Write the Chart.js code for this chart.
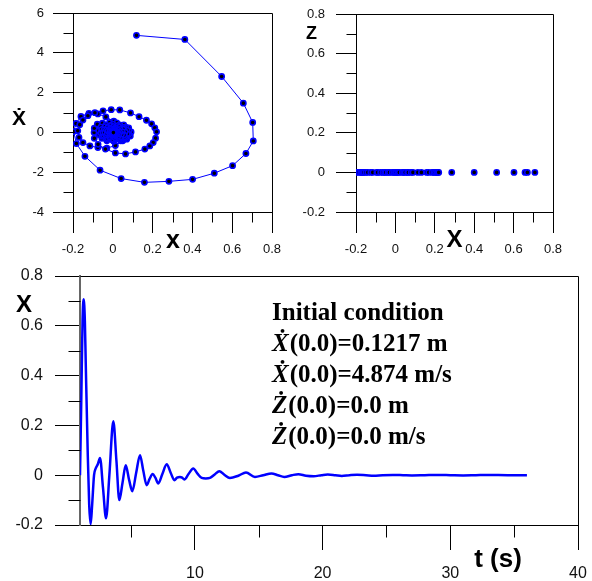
<!DOCTYPE html>
<html>
<head>
<meta charset="utf-8">
<script src="https://cdn.jsdelivr.net/npm/chart.js@4.4.1/dist/chart.umd.min.js"></script>
<style>
  body { margin: 0; background: #fff; }
  #wrap { position: relative; width: 592px; height: 581px; }
  canvas { position: absolute; }
</style>
</head>
<body>
<div id="wrap">
  <canvas id="phase" width="290" height="260" style="left:0;top:0"></canvas>
  <canvas id="xz" width="302" height="260" style="left:290px;top:0"></canvas>
  <canvas id="series" width="592" height="326" style="left:0;top:255px"></canvas>
</div>
<script>
// ---- phase plane (x, x dot) ----
const phaseX = [
  0.119, 0.362, 0.547, 0.656, 0.703, 0.706, 0.669, 0.602, 0.510, 0.401, 0.282, 0.159, 0.042, -0.064, -0.140, -0.183, -0.197,
  -0.185, -0.160, -0.120, -0.075, -0.035, 0.005, 0.040, 0.062,
  0.066, 0.050, 0.013, -0.030, -0.075, -0.115, -0.150, -0.170,
  -0.176, -0.166, -0.150, -0.125, -0.090, -0.049, -0.008, 0.035, 0.089, 0.132, 0.169, 0.195, 0.211, 0.220,
  0.215, 0.203, 0.186, 0.161, 0.114, 0.064, 0.013, -0.037, -0.074, -0.093,
  -0.094, -0.093, -0.078, -0.052, -0.016, 0.020, 0.055, 0.080, 0.092,
  0.088, 0.070, 0.040, 0.005, -0.030, -0.055, -0.068,
  -0.070, -0.060, -0.035, 0.000, 0.035, 0.065, 0.082, 0.080, 0.065, 0.035, 0.000, -0.032, -0.052, -0.060,
  -0.055, -0.038, -0.010, 0.025, 0.055, 0.072, 0.073, 0.060, 0.033, 0.002, -0.027, -0.045, -0.050,
  -0.043, -0.025, 0.003, 0.032, 0.053, 0.062, 0.056, 0.038, 0.010, -0.017, -0.035, -0.040,
  -0.032, -0.012, 0.014, 0.036, 0.048, 0.044, 0.028, 0.005, -0.016, -0.028,
  -0.024, -0.010, 0.010, 0.027, 0.035, 0.030, 0.014, -0.004, -0.016,
  -0.015, -0.004, 0.010, 0.021, 0.023, 0.014, 0.002, -0.007,
  -0.006, 0.004, 0.012, 0.014, 0.009, 0.002, -0.001, 0.004, 0.008, 0.006, 0.003
];
const phaseV = [
  4.876, 4.67, 2.81, 1.47, 0.50, -0.43, -1.06, -1.67, -2.05, -2.36, -2.46, -2.51, -2.32, -1.90, -1.20, -0.56, 0.04,
  0.45, 0.80, 0.96, 0.93, 0.78, 0.56, 0.32, 0.10,
  -0.15, -0.42, -0.66, -0.79, -0.76, -0.68, -0.51, -0.25,
  0.08, 0.39, 0.62, 0.84, 0.99, 1.08, 1.14, 1.13, 0.98, 0.79, 0.61, 0.43, 0.23, 0.03,
  -0.29, -0.51, -0.68, -0.84, -0.98, -1.08, -1.03, -0.84, -0.60, -0.30,
  0.00, 0.21, 0.41, 0.46, 0.50, 0.48, 0.38, 0.22, 0.02,
  -0.18, -0.34, -0.42, -0.45, -0.42, -0.30, -0.12,
  0.08, 0.27, 0.38, 0.42, 0.38, 0.26, 0.08, -0.10, -0.27, -0.37, -0.40, -0.34, -0.20, -0.03,
  0.15, 0.29, 0.35, 0.34, 0.25, 0.10, -0.07, -0.22, -0.31, -0.34, -0.28, -0.15, 0.00,
  0.14, 0.25, 0.29, 0.26, 0.16, 0.02, -0.13, -0.23, -0.27, -0.23, -0.12, 0.01,
  0.13, 0.21, 0.22, 0.15, 0.03, -0.09, -0.18, -0.20, -0.15, -0.05,
  0.07, 0.15, 0.16, 0.10, 0.00, -0.09, -0.14, -0.12, -0.05,
  0.04, 0.10, 0.10, 0.04, -0.04, -0.08, -0.08, -0.03,
  0.03, 0.06, 0.04, -0.01, -0.04, -0.04, 0.00, 0.02, 0.01, -0.01, -0.01
];

// ---- x / z plane ----
const zPlotX = [
  -0.197, -0.185, -0.176, -0.170, -0.166, -0.160, -0.150, -0.140, -0.125, -0.115, -0.094, -0.090,
  -0.075, -0.064, -0.055, -0.049, -0.037, -0.030, -0.016, -0.008, 0.000, 0.005, 0.013, 0.020,
  0.035, 0.042, 0.050, 0.062, 0.066, 0.080, 0.089, 0.114, 0.132, 0.159, 0.169, 0.186,
  0.195, 0.203, 0.211, 0.215, 0.220, 0.286, 0.400, 0.514, 0.602, 0.658, 0.670, 0.708
];
const zLevel = 0;

// ---- time series ----
const tValues = [
  1.0, 1.1, 1.2, 1.287, 1.38, 1.45, 1.6, 1.72, 1.835, 1.95,
  2.1, 2.23, 2.4, 2.57, 2.8, 3.04, 3.3, 3.61, 3.85, 4.08,
  4.33, 4.58, 4.85, 5.10, 5.4, 5.70, 5.95, 6.22, 6.45, 6.69,
  6.9, 7.13, 7.45, 7.79, 8.1, 8.39, 8.6, 8.83, 9.0, 9.17,
  9.5, 9.87, 10.2, 10.53, 10.85, 11.18, 11.55, 11.91, 12.3, 12.74,
  13.4, 14.0, 14.7, 15.35, 16.0, 16.5, 17.0, 17.6, 18.1, 18.7,
  19.3, 19.9, 20.4, 21.0, 21.5, 22.1, 22.7, 23.4, 24.0, 24.7,
  25.5, 26.3, 27.0, 28.0, 29.0, 30.0, 31.0, 32.0, 33.0, 34.5,
  36.0
];
const xValues = [
  0, 0.30, 0.62, 0.707, 0.62, 0.45, 0.10, -0.12, -0.197, -0.12,
  0.0, 0.027, 0.045, 0.069, -0.05, -0.173, 0.0, 0.217, 0.06, -0.10,
  -0.03, 0.04, -0.02, -0.064, 0.01, 0.08, 0.02, -0.04, -0.015, 0.005,
  -0.01, -0.033, 0.005, 0.044, 0.01, -0.02, -0.01, -0.007, -0.01, -0.017,
  0.005, 0.027, 0.006, -0.011, -0.013, -0.011, 0.003, 0.016, 0.002, -0.011,
  -0.002, 0.011, -0.007, 0.0, 0.007, 0.0, -0.007, 0.0, 0.004, -0.002,
  -0.004, 0.0, 0.003, 0.0, -0.003, 0.0, 0.002, 0.0, -0.002, 0.0,
  0.001, 0.0, -0.001, 0.0, 0.001, 0.0, -0.001, 0.0, 0.001, 0.0,
  0.0
];

// ticks
const posTicks = [-0.2, 0, 0.2, 0.4, 0.6, 0.8];
const posLabels = ['-0.2', '0', '0.2', '0.4', '0.6', '0.8'];
const posMinor = [-0.1, 0.1, 0.3, 0.5, 0.7];
const velTicks = [-4, -2, 0, 2, 4, 6];
const velLabels = ['-4', '-2', '0', '2', '4', '6'];
const velMinor = [-3, -1, 1, 3, 5];
const timeTicks = [10, 20, 30, 40];
const timeLabels = ['10', '20', '30', '40'];
const timeMinor = [5, 15, 25, 35];

const infoLines = [
  { sym: '', text: 'Initial condition' },
  { sym: '\u1E8A', text: '(0.0)=0.1217 m' },
  { sym: '\u1E8A', text: '(0.0)=4.874 m/s' },
  { sym: '\u017B', text: '(0.0)=0.0 m' },
  { sym: '\u017B', text: '(0.0)=0.0 m/s' }
];

const BLUE = '#0000ff';
const SANS = '"Liberation Sans", Arial, "DejaVu Sans", sans-serif';
const SERIF = '"Liberation Serif", "Times New Roman", "DejaVu Serif", serif';

// frame, short (minor) ticks and free-standing axis titles
const framePlugin = {
  id: 'frame',
  afterDraw(chart, args, opts) {
    const { ctx, chartArea: a } = chart;
    ctx.save();
    ctx.strokeStyle = '#000';
    ctx.lineWidth = 1;
    const L = Math.round(a.left) + 0.5, T = Math.round(a.top) + 0.5;
    const R = Math.round(a.right) + 0.5, B = Math.round(a.bottom) + 0.5;
    ctx.beginPath();
    ctx.moveTo(L, T); ctx.lineTo(R, T); ctx.lineTo(R, B);
    (opts.xMinor || []).forEach(v => {
      const p = Math.round(chart.scales.x.getPixelForValue(v)) + 0.5;
      ctx.moveTo(p, B); ctx.lineTo(p, B + opts.minorLen);
    });
    (opts.yMinor || []).forEach(v => {
      const p = Math.round(chart.scales.y.getPixelForValue(v)) + 0.5;
      ctx.moveTo(L, p); ctx.lineTo(L - opts.minorLen, p);
    });
    ctx.stroke();
    ctx.fillStyle = '#000';
    ctx.textBaseline = 'alphabetic';
    (opts.titles || []).forEach(t => {
      ctx.font = t.font;
      ctx.textAlign = 'center';
      ctx.fillText(t.text, t.x, t.y);
    });
    if (opts.info) {
      ctx.textAlign = 'left';
      opts.info.lines.forEach((ln, i) => {
        let x = opts.info.x;
        const y = opts.info.y + i * opts.info.step;
        if (ln.sym) {
          ctx.font = 'italic bold 25px ' + SERIF;
          ctx.fillText(ln.sym, x, y);
          x += ctx.measureText(ln.sym).width + 1;
        }
        ctx.font = 'bold 25px ' + SERIF;
        ctx.fillText(ln.text, x, y);
      });
    }
    ctx.restore();
  }
};

function axis(o) {
  return {
    type: 'linear',
    min: o.min,
    max: o.max,
    afterBuildTicks: s => { s.ticks = o.ticks.map(v => ({ value: v })); },
    afterFit: s => {
      if (s.isHorizontal()) s.height = o.fit; else s.width = o.fit;
      // label overflow is covered by the layout padding
      s.paddingLeft = s.paddingRight = s.paddingTop = s.paddingBottom = 0;
    },
    grid: { drawOnChartArea: false, drawTicks: true, tickLength: o.tickLen, tickColor: '#000', tickWidth: 1 },
    border: { display: true, color: o.borderColor || '#000', width: o.borderWidth || 1 },
    ticks: {
      autoSkip: false,
      maxRotation: 0,
      padding: o.pad,
      color: '#111',
      font: { family: SANS, size: o.size },
      callback: (v, i) => o.labels[i]
    }
  };
}

const pointStyle = {
  pointRadius: 2.6,
  pointBorderWidth: 1.6,
  pointBorderColor: BLUE,
  pointBackgroundColor: '#000'
};

new Chart(document.getElementById('phase'), {
  type: 'scatter',
  data: {
    datasets: [{
      data: phaseX.map((x, i) => ({ x: x, y: phaseV[i] })),
      showLine: true,
      borderColor: BLUE,
      borderWidth: 1,
      tension: 0,
      ...pointStyle
    }]
  },
  options: {
    responsive: false,
    animation: false,
    devicePixelRatio: 1,
    layout: { padding: { top: 13, right: 18, left: 0, bottom: 0 } },
    scales: {
      x: axis({ min: -0.2, max: 0.8, ticks: posTicks, labels: posLabels, fit: 48, tickLen: 21, pad: 9, size: 13 }),
      y: axis({ min: -4, max: 6, ticks: velTicks, labels: velLabels, fit: 73, tickLen: 20, pad: 9, size: 13 })
    },
    plugins: {
      legend: { display: false },
      tooltip: { enabled: false },
      frame: {
        xMinor: posMinor, yMinor: velMinor, minorLen: 10,
        titles: [
          { text: '\u1E8A', x: 19, y: 125, font: 'bold 21px ' + SANS },
          { text: 'x', x: 173, y: 248, font: 'bold 25px ' + SANS }
        ]
      }
    }
  },
  plugins: [framePlugin]
});

new Chart(document.getElementById('xz'), {
  type: 'scatter',
  data: {
    datasets: [{
      data: zPlotX.map(x => ({ x: x, y: zLevel })),
      showLine: false,
      ...pointStyle
    }]
  },
  options: {
    responsive: false,
    animation: false,
    devicePixelRatio: 1,
    layout: { padding: { top: 14, right: 39, left: 0, bottom: 0 } },
    scales: {
      x: axis({ min: -0.2, max: 0.8, ticks: posTicks, labels: posLabels, fit: 48, tickLen: 21, pad: 9, size: 13 }),
      y: axis({ min: -0.2, max: 0.8, ticks: posTicks, labels: posLabels, fit: 66, tickLen: 20, pad: 11, size: 13 })
    },
    plugins: {
      legend: { display: false },
      tooltip: { enabled: false },
      frame: {
        xMinor: posMinor, yMinor: posMinor, minorLen: 10,
        titles: [
          { text: 'Z', x: 21.5, y: 39, font: 'bold 18px ' + SANS },
          { text: 'X', x: 164.5, y: 247, font: 'bold 24px ' + SANS }
        ]
      }
    }
  },
  plugins: [framePlugin]
});

new Chart(document.getElementById('series'), {
  type: 'line',
  data: {
    datasets: [{
      data: tValues.map((t, i) => ({ x: t, y: xValues[i] })),
      borderColor: BLUE,
      borderWidth: 2.5,
      pointRadius: 0,
      cubicInterpolationMode: 'monotone',
      fill: false
    }]
  },
  options: {
    responsive: false,
    animation: false,
    devicePixelRatio: 1,
    layout: { padding: { top: 21, right: 14, left: 0, bottom: 0 } },
    scales: {
      x: axis({ min: 1, max: 40, ticks: timeTicks, labels: timeLabels, fit: 56, tickLen: 25, pad: 14, size: 16 }),
      y: axis({ min: -0.2, max: 0.8, ticks: posTicks, labels: posLabels, fit: 80, tickLen: 25, pad: 12, size: 16,
                borderColor: '#666', borderWidth: 2 })
    },
    plugins: {
      legend: { display: false },
      tooltip: { enabled: false },
      frame: {
        xMinor: timeMinor, yMinor: [-0.1, 0.1, 0.3, 0.5, 0.7], minorLen: 12,
        titles: [
          { text: 'X', x: 24, y: 57, font: 'bold 24px ' + SANS },
          { text: 't (s)', x: 498, y: 312, font: 'bold 26px ' + SANS }
        ],
        info: { lines: infoLines, x: 272, y: 65, step: 31 }
      }
    }
  },
  plugins: [framePlugin]
});
</script>
</body>
</html>
